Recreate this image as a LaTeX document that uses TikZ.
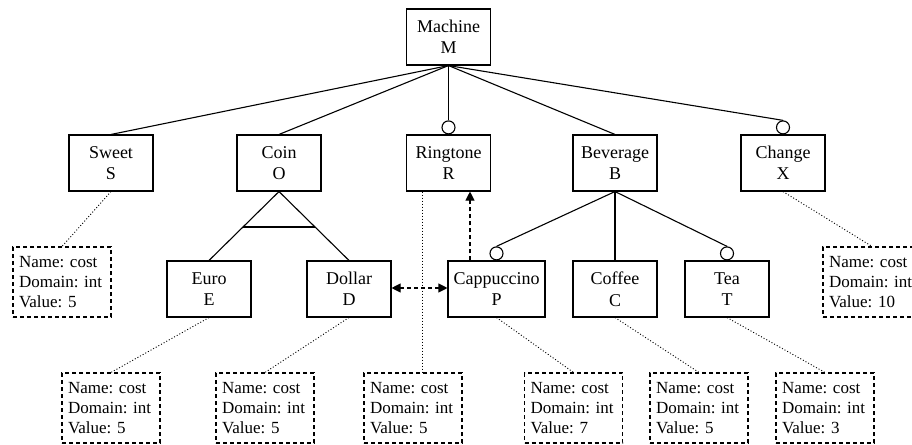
\documentclass[tikz,border=0pt]{standalone}
\usepackage{fontspec}
\setmainfont{Liberation Serif}
\usetikzlibrary{arrows.meta,calc}
\frenchspacing
\begin{document}
\begin{tikzpicture}[x=1pt,y=-1pt,
  feat/.style={draw,line width=1.1pt,minimum width=84pt,minimum height=56pt,inner sep=0pt,align=center,font=\fontsize{18}{21.5}\selectfont},
  attr/.style={draw,line width=1.1pt,dash pattern=on 4pt off 3pt,text width=86pt,inner xsep=6pt,inner ysep=0pt,minimum height=70pt,align=left,font=\frenchspacing\fontsize{17}{20.2}\selectfont},
  opt/.style={draw,line width=1.1pt,circle,fill=white,minimum size=13pt,inner sep=0pt,anchor=south},
  rel/.style={line width=1.1pt},
  dotl/.style={line width=0.9pt,dash pattern=on 1pt off 2pt},
  dep/.style={line width=1.1pt,dash pattern=on 4pt off 3pt,-{Triangle[length=9pt,width=9pt]}},
  depb/.style={line width=1.1pt,dash pattern=on 4pt off 3pt,{Triangle[length=9pt,width=9pt]}-{Triangle[length=9pt,width=9pt]}}]
\useasboundingbox (0,0) rectangle (912,444);

\node[feat] (M) at (448.5,37) {Machine\\M};
\node[feat] (S) at (111,163) {Sweet\\S};
\node[feat] (O) at (279,163) {Coin\\O};
\node[feat] (R) at (448.5,163) {Ringtone\\R};
\node[feat] (B) at (615,163) {Beverage\\B};
\node[feat] (X) at (783,163) {Change\\X};
\node[feat] (E) at (209,289) {Euro\\E};
\node[feat] (D) at (349,289) {Dollar\\D};
\node[feat,minimum width=97pt] (P) at (496.5,289) {Cappuccino\\P};
\node[feat] (C) at (615,289) {Coffee\\C};
\node[feat] (T) at (727,289) {Tea\\T};

\node[attr] (aS) at (62,282) {Name: cost\\Domain: int\\Value: 5};
\node[attr] (aX) at (872,282) {Name: cost\\Domain: int\\Value: 10};
\node[attr] (aE) at (111,408) {Name: cost\\Domain: int\\Value: 5};
\node[attr] (aD) at (265,408) {Name: cost\\Domain: int\\Value: 5};
\node[attr] (aR) at (413,408) {Name: cost\\Domain: int\\Value: 5};
\node[attr] (aP) at (573.5,408) {Name: cost\\Domain: int\\Value: 7};
\node[attr] (aC) at (699,408) {Name: cost\\Domain: int\\Value: 5};
\node[attr] (aT) at (825,408) {Name: cost\\Domain: int\\Value: 3};

% optional circles
\node[opt] (oR) at (R.north) {};
\node[opt] (oX) at (X.north) {};
\node[opt] (oP) at (P.north) {};
\node[opt] (oT) at (T.north) {};

% Machine relations
\draw[rel] (M.south) -- (S.north);
\draw[rel] (M.south) -- (O.north);
\draw[rel] (M.south) -- (oR.north);
\draw[rel] (M.south) -- (B.north);
\draw[rel] (M.south) -- (oX.north);

% Beverage relations
\draw[rel] (B.south) -- (oP.north);
\draw[rel] (B.south) -- (C.north);
\draw[rel] (B.south) -- (oT.north);

% Coin alternative group
\draw[rel] (O.south) -- (E.north);
\draw[rel] (O.south) -- (D.north);
\draw[rel] ($(O.south)!0.514!(E.north)$) -- ($(O.south)!0.514!(D.north)$);

% attribute links
\draw[dotl] (S.south) -- (aS.north);
\draw[dotl] (X.south) -- (aX.north);
\draw[dotl] (E.south) -- (aE.north);
\draw[dotl] (D.south) -- (aD.north);
\draw[dotl] ([xshift=-26.5pt]R.south) -- ([xshift=9pt]aR.north);
\draw[dotl] (P.south) -- (aP.north);
\draw[dotl] (C.south) -- (aC.north);
\draw[dotl] (T.south) -- (aT.north);

% cross-tree constraints
\draw[depb] ([yshift=1pt]D.east) -- ([yshift=1pt]P.west);
\draw[dep] ([xshift=-26.5pt]P.north) -- ([xshift=-26.5pt]P.north |- R.south);
\end{tikzpicture}
\end{document}
